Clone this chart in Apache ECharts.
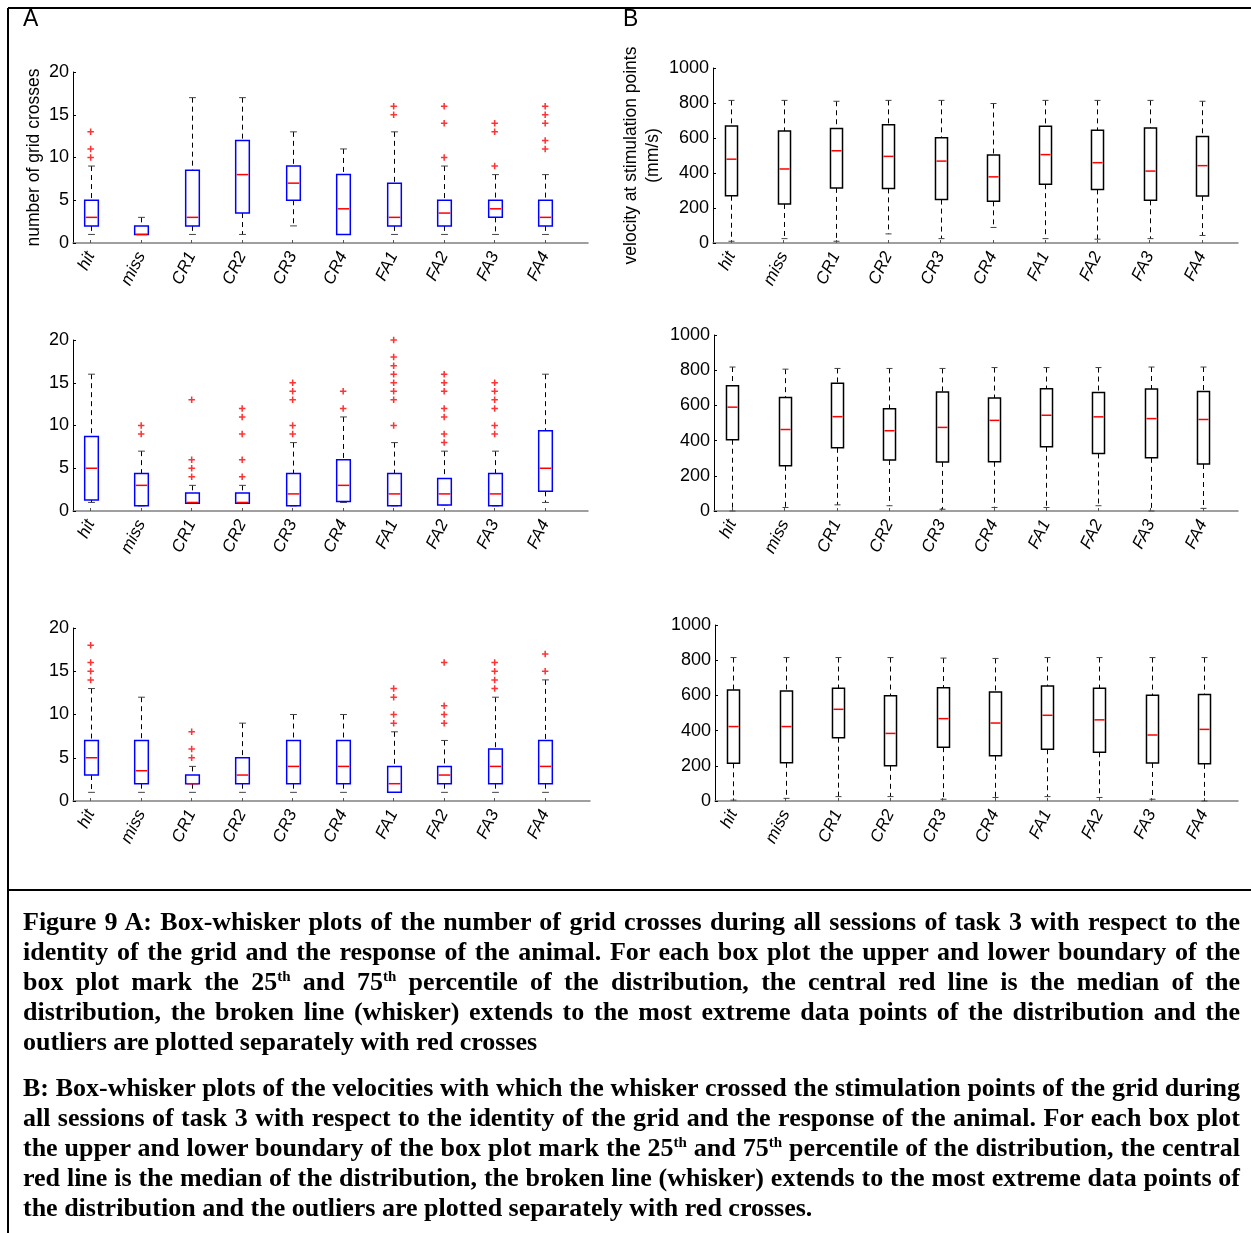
<!DOCTYPE html>
<html><head><meta charset="utf-8">
<script src="https://cdn.jsdelivr.net/npm/echarts@6/dist/echarts.min.js"></script>
<style>
html,body{margin:0;padding:0;background:#fff;}
#chart{position:absolute;left:0;top:0;width:1251px;height:1233px;}
#caption{position:absolute;left:23px;top:907px;width:1217px;font-family:"Liberation Serif","Times New Roman",serif;font-weight:bold;font-size:26px;line-height:30px;color:#000;}
.ln{text-align:justify;text-align-last:justify;white-space:nowrap;}
.last{text-align:left;text-align-last:left;}
.para{margin-bottom:16px;}
sup{font-size:15px;line-height:0;vertical-align:9px;}
</style></head>
<body>
<div id="chart"></div>
<div id="caption">
<div class="para">
<div class="ln">Figure 9 A: Box-whisker plots of the number of grid crosses during all sessions of task 3 with respect to the</div>
<div class="ln">identity of the grid and the response of the animal. For each box plot the upper and lower boundary of the</div>
<div class="ln">box plot mark the 25<sup>th</sup> and 75<sup>th</sup> percentile of the distribution, the central red line is the median of the</div>
<div class="ln">distribution, the broken line (whisker) extends to the most extreme data points of the distribution and the</div>
<div class="ln last">outliers are plotted separately with red crosses</div>
</div>
<div class="para">
<div class="ln">B: Box-whisker plots of the velocities with which the whisker crossed the stimulation points of the grid during</div>
<div class="ln">all sessions of task 3 with respect to the identity of the grid and the response of the animal. For each box plot</div>
<div class="ln">the upper and lower boundary of the box plot mark the 25<sup>th</sup> and 75<sup>th</sup> percentile of the distribution, the central</div>
<div class="ln">red line is the median of the distribution, the broken line (whisker) extends to the most extreme data points of</div>
<div class="ln last">the distribution and the outliers are plotted separately with red crosses.</div>
</div>
</div>
<script>
// ---------- DATA ----------
const categories = ['hit','miss','CR1','CR2','CR3','CR4','FA1','FA2','FA3','FA4'];
const ticksA = [0,5,10,15,20];
const ticksB = [0,200,400,600,800,1000];

// each row: [whisker low, q1, median, q3, whisker high]
const statsA1 = [[1,2,3,5,9],[1,1,1,2,3],[1,2,3,8.5,17],[1,3.5,8,12,17],[2,5,7,9,13],
                 [1,1,4,8,11],[1,2,3,7,13],[1,2,3.5,5,9],[1,3,4,5,8],[1,2,3,5,8]];
const outA1 = [[10,11,13],[],[],[],[],[],[15,16],[10,14,16],[9,13,14],[11,12,14,15,16]];

const statsA2 = [[1,1.3,5,8.7,16],[0.6,0.6,3,4.4,7],[0.9,0.9,1,2.1,3],[0.9,0.9,1,2.1,3],[0.6,0.6,2,4.4,8],
                 [1,1.1,3,6,11],[0.6,0.6,2,4.4,8],[0.7,0.7,2,3.8,7],[0.6,0.6,2,4.4,7],[1,2.3,5,9.4,16]];
const outA2 = [[],[9,10],[4,5,6,13],[4,6,9,11,12],[9,10,13,14,15],[12,14],
               [10,13,14,15,16,17,18,20],[8,9,11,12,14,15,16],[9,10,12,13,14,15],[]];

const statsA3 = [[1,3,5,7,13],[1,2,3.5,7,12],[1,2,2,3,4],[1,2,3,5,9],[1,2,4,7,10],
                 [1,2,4,7,10],[1,1,2,4,8],[1,2,3,4,7],[1,2,4,6,12],[1,2,4,7,14]];
const outA3 = [[14,15,16,18],[],[5,6,8],[],[],[],[9,10,12,13],[9,10,11,16],[13,14,15,16],[15,17]];

const statsB1 = [[10,270,479,668,815],[25,223,423,640,815],[10,315,527,655,810],[52,312,495,676,815],[25,248,468,602,815],
                 [89,238,378,503,797],[25,336,505,667,815],[22,306,459,645,815],[25,244,411,657,815],[43,268,442,609,810]];
const statsB2 = [[0,405,590,712,818],[20,257,463,645,806],[35,359,536,726,810],[30,290,456,581,810],[10,279,475,676,810],
                 [20,280,515,642,815],[20,365,544,695,815],[30,327,535,673,815],[0,302,525,693,818],[15,267,520,679,818]];
const statsB3 = [[5,214,423,631,815],[15,217,423,625,815],[25,360,521,640,815],[25,200,384,598,815],[10,306,468,644,812],
                 [20,257,443,619,810],[25,294,487,654,815],[20,277,461,641,815],[10,216,375,601,815],[0,211,407,605,815]];

// ---------- LAYOUT ----------
const OFF = 0.35;
const panels = [
  {stats:statsA1, outs:outA1, left:73,  top:72,  width:515, height:171, unit:50.5, ticks:ticksA, color:'#0000ff', bw:0.27, name:'number of grid crosses', gap:28},
  {stats:statsA2, outs:outA2, left:73,  top:340, width:515, height:171, unit:50.5, ticks:ticksA, color:'#0000ff', bw:0.27},
  {stats:statsA3, outs:outA3, left:73,  top:628, width:517, height:173, unit:50.5, ticks:ticksA, color:'#0000ff', bw:0.27},
  {stats:statsB1, outs:null,  left:713, top:68,  width:525, height:175, unit:52.3, ticks:ticksB, color:'#000000', bw:0.23, name:'velocity at stimulation points\n(mm/s)', gap:49},
  {stats:statsB2, outs:null,  left:714, top:335, width:524, height:176, unit:52.3, ticks:ticksB, color:'#000000', bw:0.23},
  {stats:statsB3, outs:null,  left:715, top:625, width:523, height:176, unit:52.3, ticks:ticksB, color:'#000000', bw:0.23}
];

const grid = [], xAxis = [], yAxis = [], series = [];
const catPos = categories.map((c,i)=>i+OFF);
const font = 'Liberation Sans';

panels.forEach((p,k)=>{
  grid.push({left:p.left, top:p.top, width:p.width, height:p.height});
  xAxis.push({
    type:'value', gridIndex:k, min:0, max:p.width/p.unit,
    splitLine:{show:false},
    axisLine:{show:true, lineStyle:{color:'#808080', width:1.5}},
    axisTick:{show:true, inside:true, length:3, customValues:catPos, lineStyle:{color:'#555'}},
    axisLabel:{customValues:catPos, formatter:v=>categories[Math.round(v-OFF)],
      rotate:64, fontStyle:'italic', fontSize:17, fontFamily:font, color:'#000', margin:10}
  });
  const t = p.ticks;
  yAxis.push({
    type:'value', gridIndex:k, min:t[0], max:t[t.length-1], interval:t[1]-t[0],
    splitLine:{show:false},
    axisLine:{show:true, lineStyle:{color:'#000', width:1}},
    axisTick:{show:true, inside:true, length:3, lineStyle:{color:'#000'}},
    axisLabel:{fontSize:18, fontFamily:font, color:'#000', margin:4, formatter:v=>String(v)},
    name:p.name || '', nameLocation:'middle', nameGap:p.gap || 30,
    nameTextStyle:{fontSize:17.5, fontFamily:font, color:'#000', lineHeight:22}
  });
  const boxColor = p.color, bwU = p.bw;
  series.push({
    type:'custom', xAxisIndex:k, yAxisIndex:k, silent:true,
    data:p.stats.map((s,i)=>[i+OFF].concat(s)),
    encode:{x:0, y:[1,2,3,4,5]},
    renderItem:(params, api)=>{
      const x = api.value(0);
      const lo = api.coord([x, api.value(1)]);
      const q1 = api.coord([x, api.value(2)]);
      const md = api.coord([x, api.value(3)]);
      const q3 = api.coord([x, api.value(4)]);
      const hi = api.coord([x, api.value(5)]);
      const bw = api.size([bwU, 0])[0];
      const cw = bw*0.5;
      const cx = Math.round(q1[0]) + 0.5;
      const dash = {stroke:'#000', lineWidth:1, lineDash:[5,4]};
      const cap = {stroke:'#444', lineWidth:1};
      return {type:'group', children:[
        {type:'line', shape:{x1:cx, y1:hi[1], x2:cx, y2:q3[1]}, style:dash},
        {type:'line', shape:{x1:cx, y1:q1[1], x2:cx, y2:lo[1]}, style:dash},
        {type:'line', shape:{x1:cx-cw/2, y1:hi[1], x2:cx+cw/2, y2:hi[1]}, style:cap},
        {type:'line', shape:{x1:cx-cw/2, y1:lo[1], x2:cx+cw/2, y2:lo[1]}, style:cap},
        {type:'rect', shape:{x:cx-bw/2, y:q3[1], width:bw, height:q1[1]-q3[1]},
          style:{fill:'#fff', stroke:boxColor, lineWidth:1.5}},
        {type:'line', shape:{x1:cx-bw/2+1, y1:md[1], x2:cx+bw/2-1, y2:md[1]},
          style:{stroke:'#ff0000', lineWidth:1.5}}
      ]};
    }
  });
  if (p.outs) {
    const pts = [];
    p.outs.forEach((arr,i)=>arr.forEach(v=>pts.push([i+OFF, v])));
    series.push({
      type:'scatter', xAxisIndex:k, yAxisIndex:k, silent:true,
      symbol:'path://M2.6,0H4.2V6.8H2.6ZM0,2.6H6.8V4.2H0Z', symbolSize:6.5,
      itemStyle:{color:'#ff0000'}, data:pts, z:5
    });
  }
});

const chart = echarts.init(document.getElementById('chart'), null, {renderer:'canvas'});
chart.setOption({
  animation:false,
  backgroundColor:'#fff',
  grid, xAxis, yAxis, series,
  graphic:[
    {type:'line', shape:{x1:8, y1:8, x2:1251, y2:8}, style:{stroke:'#000', lineWidth:2}},
    {type:'line', shape:{x1:8, y1:8, x2:8, y2:1233}, style:{stroke:'#000', lineWidth:2}},
    {type:'line', shape:{x1:8, y1:890, x2:1251, y2:890}, style:{stroke:'#000', lineWidth:2}},
    {type:'text', left:23, top:8, style:{text:'A', fontSize:23, fontFamily:font, fill:'#000'}},
    {type:'text', left:623, top:8, style:{text:'B', fontSize:23, fontFamily:font, fill:'#000'}}
  ]
});
</script>
</body></html>
